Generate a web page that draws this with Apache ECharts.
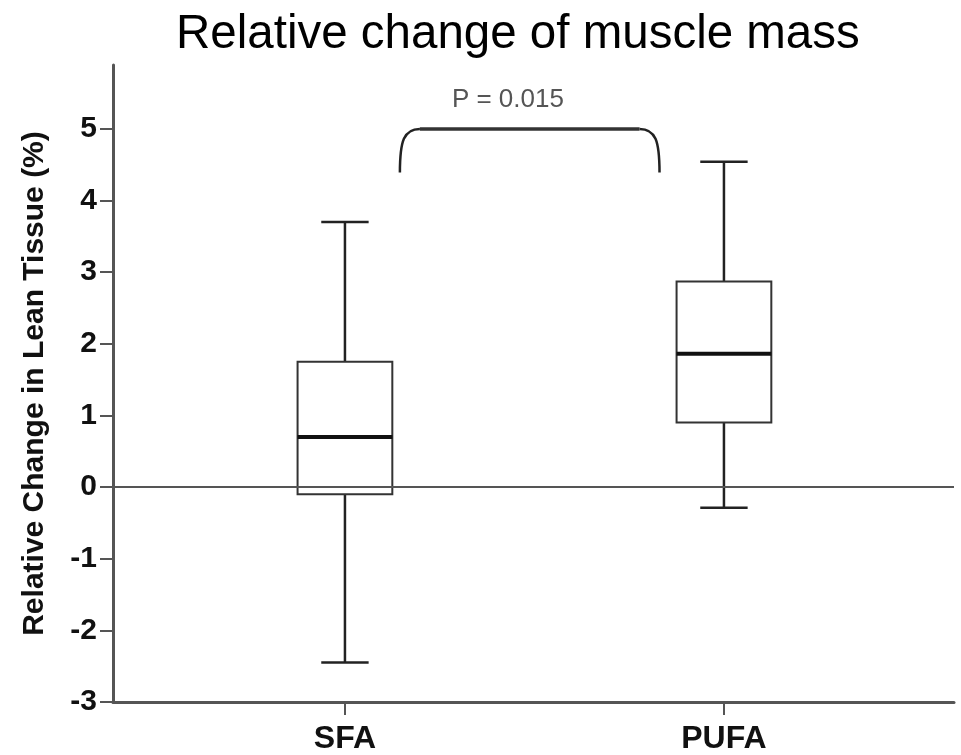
<!DOCTYPE html>
<html>
<head>
<meta charset="utf-8">
<script src="https://cdn.jsdelivr.net/npm/echarts@6/dist/echarts.min.js"></script>
<style>
html, body { margin: 0; padding: 0; background: #fff; }
#main { width: 961px; height: 755px; }
</style>
</head>
<body>
<div id="main"></div>
<script>
// groups and box statistics
var groups = ['SFA', 'PUFA'];
var groupX = [1, 2];
var lowWhisker = [-2.45, -0.29];
var q1 = [-0.10, 0.90];
var median = [0.70, 1.86];
var q3 = [1.75, 2.87];
var highWhisker = [3.70, 4.54];
var yTicks = [-3, -2, -1, 0, 1, 2, 3, 4, 5];
// significance bracket
var bracketX = [1.145, 1.83];
var bracketY = [4.39, 5.0];
var pText = 'P = 0.015';
var pTextAt = [1.43, 5.40];

var font = 'Liberation Sans, Arial, Helvetica, sans-serif';
var ink = '#222';

var boxData = [];
for (var i = 0; i < groups.length; i++) {
	boxData.push([groupX[i], lowWhisker[i], q1[i], median[i], q3[i], highWhisker[i]]);
}

//箱线图
function renderBox(params, api) {
	var x = api.value(0);
	var pMin = api.coord([x, api.value(1)]);
	var pQ1 = api.coord([x, api.value(2)]);
	var pMed = api.coord([x, api.value(3)]);
	var pQ3 = api.coord([x, api.value(4)]);
	var pMax = api.coord([x, api.value(5)]);
	var half = api.size([0.25, 0])[0] / 2;
	var cap = half / 2;
	var st = { stroke: ink, lineWidth: 2.5, fill: null };
	return {
		type: 'group',
		children: [
			{ type: 'line', shape: { x1: pMin[0], y1: pMin[1], x2: pQ1[0], y2: pQ1[1] }, style: st },
			{ type: 'line', shape: { x1: pQ3[0], y1: pQ3[1], x2: pMax[0], y2: pMax[1] }, style: st },
			{ type: 'line', shape: { x1: pMin[0] - cap, y1: pMin[1], x2: pMin[0] + cap, y2: pMin[1] }, style: st },
			{ type: 'line', shape: { x1: pMax[0] - cap, y1: pMax[1], x2: pMax[0] + cap, y2: pMax[1] }, style: st },
			{ type: 'rect', shape: { x: pQ3[0] - half, y: pQ3[1], width: half * 2, height: pQ1[1] - pQ3[1] },
				style: { stroke: '#333', lineWidth: 2, fill: 'none' } },
			{ type: 'line', shape: { x1: pMed[0] - half, y1: pMed[1], x2: pMed[0] + half, y2: pMed[1] },
				style: { stroke: '#111', lineWidth: 4 } }
		]
	};
}

//P值括号
function renderBracket(params, api) {
	var l = api.coord([api.value(0), api.value(2)]);
	var r = api.coord([api.value(1), api.value(2)]);
	var top = api.coord([api.value(0), api.value(3)])[1];
	var t = api.coord(pTextAt);
	var st = { stroke: ink, lineWidth: 2.5, fill: null };
	return {
		type: 'group',
		children: [
			{ type: 'bezierCurve', shape: { x1: l[0], y1: l[1], cpx1: l[0], cpy1: top + 12, cpx2: l[0] + 4, cpy2: top, x2: l[0] + 20, y2: top }, style: st },
			{ type: 'line', shape: { x1: l[0] + 20, y1: top, x2: r[0] - 20, y2: top }, style: { stroke: '#333', lineWidth: 3.5 } },
			{ type: 'bezierCurve', shape: { x1: r[0], y1: r[1], cpx1: r[0], cpy1: top + 12, cpx2: r[0] - 4, cpy2: top, x2: r[0] - 20, y2: top }, style: st },
			{ type: 'text', x: t[0], y: t[1], style: { text: pText, align: 'center', verticalAlign: 'middle', font: '26px ' + font, fill: '#555' } }
		]
	};
}

var option = {
	animation: false,
	title: {
		text: 'Relative change of muscle mass',
		left: 171,
		top: 6,
		textStyle: { fontFamily: font, fontSize: 47.5, fontWeight: 'normal', color: '#000' }
	},
	grid: { left: 113, right: 7, top: 65, bottom: 52, containLabel: false },
	xAxis: {
		type: 'value',
		min: 0.388,
		max: 2.607,
		axisLine: { onZero: false, lineStyle: { color: '#555', width: 3 } },
		axisTick: { show: true, length: 13, customValues: groupX, lineStyle: { color: '#555', width: 2 } },
		axisLabel: {
			customValues: groupX,
			margin: 21,
			formatter: function(v) { return groups[groupX.indexOf(v)]; },
			fontFamily: font, fontSize: 32, fontWeight: 'bold', color: '#111'
		},
		splitLine: { show: false }
	},
	yAxis: {
		type: 'value',
		min: -3,
		max: 5.892,
		interval: 1,
		name: 'Relative Change in Lean Tissue (%)',
		nameLocation: 'middle',
		nameGap: 63,
		nameTextStyle: { fontFamily: font, fontSize: 30, fontWeight: 'bold', color: '#111' },
		axisLine: { show: true, onZero: false, lineStyle: { color: '#555', width: 3 } },
		axisTick: { show: true, length: 13, customValues: yTicks, lineStyle: { color: '#555', width: 2 } },
		axisLabel: { customValues: yTicks, margin: 16, fontFamily: font, fontSize: 30, fontWeight: 'bold', color: '#111' },
		splitLine: { show: false }
	},
	series: [{
		type: 'custom',
		renderItem: renderBox,
		encode: { x: 0, y: [1, 2, 3, 4, 5] },
		data: boxData,
		z: 3,
		markLine: {
			silent: true,
			symbol: ['none', 'none'],
			label: { show: false },
			lineStyle: { color: '#555', width: 2, type: 'solid' },
			data: [{ yAxis: 0 }]
		}
	}, {
		type: 'custom',
		renderItem: renderBracket,
		encode: { x: [0, 1], y: [2, 3] },
		data: [[bracketX[0], bracketX[1], bracketY[0], bracketY[1]]],
		z: 3
	}]
};

var chart = echarts.init(document.getElementById('main'));
chart.setOption(option);
</script>
</body>
</html>
